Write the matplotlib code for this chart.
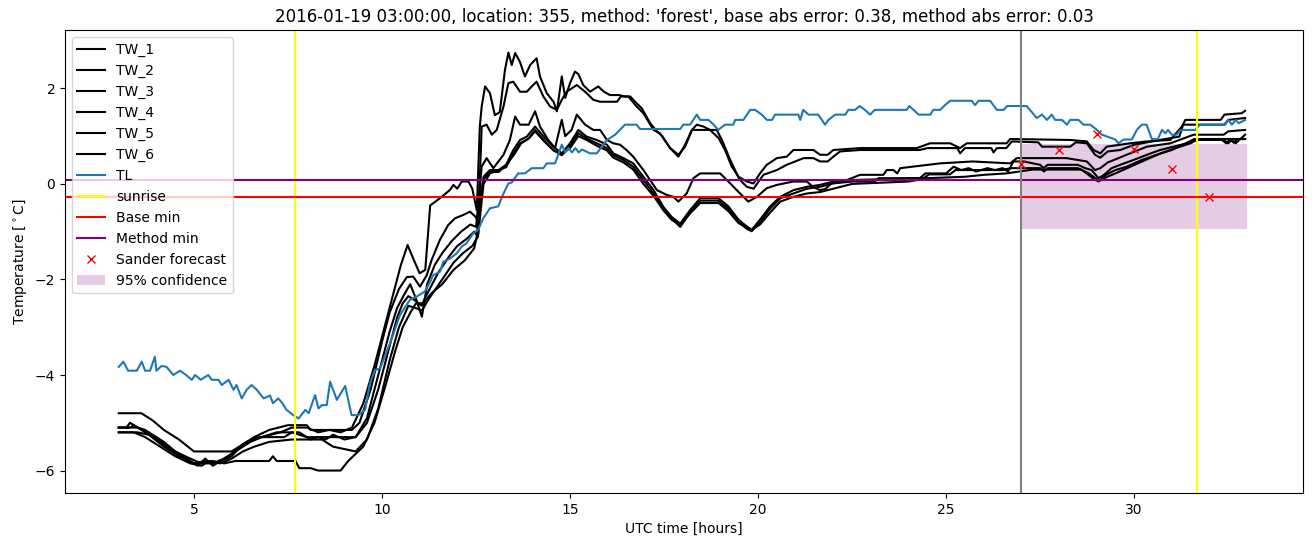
import numpy as np
import matplotlib
matplotlib.use("Agg")
import matplotlib.pyplot as plt

# ---- data (hours UTC, degC) ----
tw1_t = [3.0, 3.5, 3.7, 4.2, 4.6, 5.0, 5.5, 5.8, 6.2, 6.5, 6.8, 7.3, 7.6, 8.0, 8.3, 8.6, 8.9, 9.2,
         9.5, 9.8, 10.1, 10.3, 10.5, 10.68, 10.85, 11.0, 11.15, 11.28, 11.54, 11.8, 11.9, 12.0, 12.12,
         12.3, 12.4, 12.52, 12.6, 12.65, 12.74, 12.87, 13.0, 13.13, 13.27, 13.36, 13.45, 13.54, 13.67,
         13.8, 13.94, 14.11, 14.2, 14.38, 14.56, 14.65, 14.78, 14.87, 15.0, 15.13, 15.22, 15.35, 15.53,
         15.75, 15.9, 16.06, 16.3, 16.46, 16.6, 16.73, 16.91, 17.13, 17.31, 17.45, 17.66, 17.88, 18.06,
         18.24, 18.37, 18.55, 18.72, 18.95, 19.12, 19.3, 19.48, 19.7, 19.88, 20.05, 20.23, 20.5, 20.76,
         20.94, 21.47, 21.65, 21.85, 22.0, 22.71, 24.22, 24.57, 25.11, 25.37, 25.55, 26.61, 26.7, 28.3,
         28.74, 28.92, 29.1, 29.27, 29.89, 30.34, 30.96, 31.27, 31.36, 32.3, 32.4, 32.86, 32.95]
tw1_v = [-5.1, -5.1, -5.15, -5.45, -5.7, -5.85, -5.85, -5.75, -5.55, -5.4, -5.3, -5.2, -5.1, -5.1,
         -5.2, -5.15, -5.2, -5.1, -4.6, -3.8, -2.9, -2.3, -1.7, -1.28, -1.6, -1.87, -1.8, -0.45, -0.3,
         -0.13, -0.02, -0.1, 0.05, 0.05, -0.1, -0.55, 1.2, 1.62, 2.04, 1.9, 1.44, 1.5, 2.39, 2.75, 2.49,
         2.74, 2.55, 2.25, 2.49, 2.63, 2.25, 1.9, 1.72, 1.52, 2.25, 1.8, 2.11, 2.35, 2.3, 2.07, 1.93,
         2.04, 1.93, 1.86, 1.86, 1.83, 1.83, 1.72, 1.58, 1.27, 1.1, 1.0, 0.75, 0.57, 0.82, 1.13, 1.24,
         1.2, 1.13, 0.96, 0.71, 0.36, 0.15, 0.05, 0.01, 0.22, 0.4, 0.54, 0.57, 0.71, 0.71, 0.61, 0.61,
         0.71, 0.75, 0.75, 0.85, 0.85, 0.75, 0.85, 0.85, 0.94, 0.92, 0.89, 0.71, 0.64, 0.78, 0.85, 0.89,
         0.92, 1.2, 1.34, 1.34, 1.45, 1.48, 1.53]

tw2_t = [3.0, 3.6, 3.9, 4.2, 4.6, 5.0, 6.0, 6.2, 6.6, 7.0, 7.5, 8.0, 8.1, 9.2, 9.4, 9.7, 10.0, 10.2,
         10.45, 10.66, 10.83, 11.01, 11.19, 11.32, 11.54, 11.76, 11.94, 12.16, 12.34, 12.5, 12.56,
         12.65, 12.78, 12.92, 13.05, 13.23, 13.36, 13.49, 13.67, 13.85, 13.98, 14.11, 14.29, 14.47,
         14.65, 14.78, 14.91, 15.18, 15.4, 15.62, 15.8, 16.25, 16.35, 16.55, 16.77, 16.95, 17.22, 17.39,
         17.66, 17.88, 18.06, 18.24, 18.9, 19.05, 19.26, 19.5, 19.7, 19.88, 20.14, 20.5, 20.76, 21.21,
         21.47, 21.65, 21.85, 22.0, 22.18, 22.71, 24.3, 24.5, 25.3, 25.37, 25.5, 26.2, 26.26, 26.35,
         26.6, 26.75, 27.45, 27.55, 28.3, 28.45, 28.74, 28.96, 29.1, 29.3, 29.63, 30.0, 30.69, 31.2,
         31.3, 32.4, 32.5, 32.95]
tw2_v = [-4.8, -4.8, -4.95, -5.15, -5.35, -5.6, -5.6, -5.5, -5.3, -5.15, -5.05, -5.05, -5.15, -5.15,
         -5.0, -4.3, -3.3, -2.7, -2.2, -1.95, -1.94, -2.15, -1.91, -1.59, -1.17, -0.86, -0.72, -0.65,
         -0.58, -0.7, -0.82, 1.2, 1.24, 1.03, 1.13, 1.62, 2.11, 2.14, 1.93, 1.93, 2.04, 2.14, 1.83,
         1.62, 1.55, 1.76, 1.93, 2.07, 1.93, 1.76, 1.72, 1.72, 1.83, 1.83, 1.62, 1.48, 1.13, 1.06, 0.75,
         0.61, 0.78, 1.13, 1.13, 0.9, 0.5, 0.1, -0.06, -0.1, 0.19, 0.29, 0.4, 0.54, 0.54, 0.47, 0.47,
         0.57, 0.68, 0.71, 0.71, 0.75, 0.75, 0.64, 0.75, 0.75, 0.66, 0.75, 0.75, 0.89, 0.87, 0.78, 0.78,
         0.87, 0.85, 0.61, 0.55, 0.68, 0.71, 0.82, 0.92, 0.99, 1.24, 1.24, 1.34, 1.38]

tw3_t = [3.0, 3.5, 3.8, 4.2, 4.6, 5.0, 5.3, 5.6, 6.0, 6.3, 6.7, 7.4, 7.6, 8.0, 9.3, 9.6, 9.9, 10.2,
         10.4, 10.6, 10.75, 10.9, 11.06, 11.2, 11.4, 11.6, 11.85, 12.1, 12.35, 12.5, 12.55, 12.65,
         12.78, 12.96, 13.23, 13.4, 13.54, 13.67, 13.9, 14.07, 14.2, 14.42, 14.6, 14.78, 14.87, 15.04,
         15.18, 15.4, 15.62, 15.8, 15.98, 16.15, 16.33, 16.5, 16.68, 16.95, 17.13, 17.31, 17.57, 17.75,
         17.88, 18.1, 18.28, 18.46, 18.99, 19.26, 19.52, 19.74, 19.97, 20.23, 20.5, 20.94, 21.3, 21.45,
         21.65, 21.8, 22.0, 22.36, 22.71, 23.33, 23.42, 23.6, 23.7, 23.78, 24.84, 25.7, 26.7, 26.88,
         28.2, 28.74, 28.96, 29.1, 29.3, 29.8, 30.34, 30.96, 31.58, 32.38, 32.5, 32.95]
tw3_v = [-5.2, -5.2, -5.25, -5.5, -5.7, -5.85, -5.8, -5.85, -5.7, -5.45, -5.3, -5.3, -5.2, -5.3,
         -5.3, -4.9, -4.0, -3.1, -2.6, -2.3, -2.1, -2.4, -2.78, -2.1, -1.7, -1.45, -1.2, -1.0, -0.85,
         -0.9, -0.5, 0.36, 0.54, 0.33, 0.61, 0.92, 1.41, 1.24, 1.24, 1.52, 1.2, 0.92, 0.75, 1.34, 1.0,
         1.13, 1.45, 1.24, 1.13, 1.13, 0.92, 0.85, 0.82, 0.71, 0.57, 0.29, 0.08, -0.13, -0.23, -0.27,
         -0.37, -0.2, 0.12, 0.22, 0.22, 0.01, -0.2, -0.37, -0.27, -0.09, -0.02, 0.05, 0.05, -0.06,
         -0.13, -0.1, 0.05, 0.08, 0.19, 0.19, 0.29, 0.29, 0.22, 0.33, 0.43, 0.47, 0.43, 0.54, 0.54,
         0.47, 0.29, 0.33, 0.45, 0.61, 0.78, 0.85, 1.03, 1.03, 1.1, 1.13]

tw4_t = [3.0, 3.3, 3.4, 3.6, 4.0, 4.4, 4.8, 5.1, 5.3, 5.5, 5.8, 6.1, 6.4, 6.8, 7.2, 7.8, 8.1, 8.3,
         8.5, 8.7, 9.0, 9.3, 9.6, 9.9, 10.2, 10.4, 10.55, 10.7, 10.9, 11.05, 11.2, 11.5, 11.8, 12.0,
         12.25, 12.45, 12.55, 12.62, 12.7, 12.87, 13.1, 13.3, 13.49, 13.67, 13.85, 14.07, 14.3, 14.56,
         14.78, 15.0, 15.22, 15.44, 15.71, 15.98, 16.15, 16.42, 16.68, 16.95, 17.22, 17.48, 17.7, 17.93,
         18.19, 18.46, 18.95, 19.21, 19.48, 19.7, 19.83, 20.05, 20.32, 20.59, 20.94, 21.3, 21.65, 22.0,
         22.45, 24.3, 24.45, 25.0, 25.2, 25.4, 25.6, 25.8, 26.1, 26.3, 26.5, 26.65, 26.79, 27.06, 27.5,
         27.59, 27.7, 28.5, 28.7, 28.87, 29.05, 29.2, 29.4, 29.63, 29.98, 30.34, 30.69, 31.05, 31.4,
         31.67, 32.38, 32.5, 32.6, 32.7, 32.95]
tw4_v = [-5.1, -5.1, -5.05, -5.15, -5.35, -5.55, -5.75, -5.9, -5.75, -5.9, -5.75, -5.6, -5.4, -5.3,
         -5.2, -5.2, -5.35, -5.3, -5.35, -5.25, -5.35, -5.3, -5.0, -4.3, -3.4, -2.8, -2.5, -2.35, -2.45,
         -2.55, -2.3, -1.85, -1.5, -1.3, -1.15, -1.0, -1.1, -0.4, 0.15, 0.29, 0.29, 0.4, 0.71, 0.92,
         0.99, 1.2, 0.99, 0.78, 0.64, 0.85, 1.13, 0.99, 0.92, 0.82, 0.64, 0.54, 0.43, 0.15, -0.13, -0.48,
         -0.69, -0.83, -0.55, -0.3, -0.3, -0.47, -0.75, -0.89, -0.96, -0.75, -0.47, -0.27, -0.13, -0.06,
         -0.02, 0.05, 0.08, 0.12, 0.22, 0.22, 0.36, 0.29, 0.33, 0.26, 0.33, 0.29, 0.33, 0.26, 0.47, 0.47,
         0.4, 0.33, 0.4, 0.4, 0.33, 0.29, 0.12, 0.19, 0.33, 0.4, 0.5, 0.61, 0.71, 0.78, 0.85, 0.92, 0.92,
         0.85, 0.92, 0.85, 1.03]

tw5_t = [3.0, 3.4, 3.7, 4.1, 4.5, 4.9, 5.2, 5.4, 5.7, 6.0, 6.3, 6.6, 7.0, 7.6, 8.4, 8.7, 9.3, 9.6,
         9.9, 10.2, 10.45, 10.7, 10.9, 11.06, 11.25, 11.6, 11.9, 12.15, 12.4, 12.55, 12.7, 12.87, 13.1,
         13.3, 13.49, 13.67, 13.9, 14.07, 14.3, 14.56, 14.78, 15.0, 15.22, 15.44, 15.71, 15.98, 16.15,
         16.42, 16.68, 16.95, 17.22, 17.48, 17.7, 17.93, 18.19, 18.46, 18.95, 19.21, 19.48, 19.7, 19.83,
         20.05, 20.32, 20.59, 20.94, 21.3, 21.65, 22.0, 22.5, 23.1, 23.2, 24.4, 24.55, 25.1, 25.25, 26.5,
         26.7, 27.5, 27.6, 27.7, 28.5, 28.8, 29.0, 29.1, 29.25, 29.5, 29.8, 30.2, 30.6, 31.0, 31.3, 31.6,
         32.95]
tw5_v = [-5.2, -5.2, -5.3, -5.5, -5.7, -5.85, -5.9, -5.8, -5.85, -5.75, -5.6, -5.5, -5.4, -5.35,
         -5.35, -5.5, -5.6, -5.35, -4.7, -3.7, -3.0, -2.55, -2.6, -2.65, -2.4, -2.0, -1.65, -1.45, -1.3,
         -1.1, 0.0, 0.22, 0.29, 0.35, 0.64, 0.85, 0.95, 1.13, 0.92, 0.71, 0.6, 0.8, 1.06, 0.95, 0.85, 0.75,
         0.6, 0.5, 0.36, 0.08, -0.2, -0.52, -0.72, -0.9, -0.6, -0.35, -0.35, -0.52, -0.8, -0.94, -0.99,
         -0.8, -0.52, -0.3, -0.2, -0.1, -0.06, 0.01, 0.05, 0.05, 0.12, 0.12, 0.2, 0.2, 0.29, 0.29, 0.33,
         0.33, 0.26, 0.33, 0.33, 0.22, 0.1, 0.08, 0.19, 0.29, 0.36, 0.5, 0.61, 0.71, 0.82, 0.94, 0.94]

tw6_t = [3.0, 3.2, 3.3, 3.5, 3.8, 4.2, 4.5, 4.9, 5.2, 5.5, 5.8, 6.1, 7.0, 7.1, 7.2, 7.7, 7.8, 8.1,
         8.3, 8.9, 9.1, 9.5, 9.8, 10.1, 10.35, 10.55, 10.75, 10.9, 11.1, 11.3, 11.6, 11.9, 12.2, 12.45,
         12.52, 12.6, 12.7, 12.87, 13.1, 13.3, 13.5, 13.7, 13.9, 14.07, 14.3, 14.56, 14.78, 15.0, 15.22,
         15.44, 15.71, 15.98, 16.15, 16.42, 16.68, 16.95, 17.22, 17.48, 17.7, 17.93, 18.19, 18.46,
         18.95, 19.21, 19.48, 19.83, 20.05, 20.32, 20.59, 20.94, 21.3, 21.65, 22.0, 22.5, 24.0, 24.5,
         25.5, 26.0, 26.6, 27.3, 28.6, 28.9, 29.05, 29.2, 29.5, 29.9, 30.3, 30.7, 31.1, 31.5, 31.7,
         32.3, 32.45, 32.55, 32.65, 32.75, 32.95]
tw6_v = [-5.1, -5.1, -5.0, -5.1, -5.2, -5.4, -5.6, -5.75, -5.85, -5.8, -5.85, -5.8, -5.8, -5.7, -5.8,
         -5.8, -5.95, -5.95, -6.0, -6.0, -5.8, -5.5, -5.0, -4.2, -3.5, -3.0, -2.7, -2.5, -2.5, -2.3,
         -2.1, -1.8, -1.6, -1.35, -1.1, -0.3, 0.1, 0.25, 0.25, 0.4, 0.6, 0.85, 0.95, 1.1, 0.9, 0.7,
         0.62, 0.75, 1.0, 0.92, 0.8, 0.7, 0.55, 0.45, 0.3, 0.0, -0.25, -0.55, -0.75, -0.86, -0.62, -0.4,
         -0.4, -0.57, -0.82, -0.96, -0.85, -0.6, -0.37, -0.27, -0.2, -0.17, -0.1, 0.0, 0.05, 0.12, 0.15,
         0.19, 0.22, 0.3, 0.3, 0.12, 0.05, 0.12, 0.22, 0.36, 0.5, 0.64, 0.75, 0.85, 0.94, 0.94, 0.85,
         0.94, 0.86, 0.94, 0.94]

tl_t = [3.0, 3.12, 3.25, 3.48, 3.61, 3.7, 3.83, 3.96, 4.0, 4.14, 4.27, 4.45, 4.63, 4.79, 4.94, 5.03,
        5.18, 5.38, 5.47, 5.65, 5.74, 5.92, 6.05, 6.13, 6.27, 6.4, 6.53, 6.67, 6.85, 7.02, 7.1, 7.24,
        7.35, 7.46, 7.64, 7.78, 7.96, 8.05, 8.22, 8.31, 8.4, 8.53, 8.62, 8.8, 9.02, 9.19, 9.37, 9.55,
        9.68, 9.81, 9.95, 10.21, 10.48, 10.74, 10.92, 11.14, 11.28, 11.36, 11.54, 11.63, 11.81, 11.99,
        12.12, 12.25, 12.43, 12.56, 12.69, 12.87, 13.09, 13.23, 13.36, 13.45, 13.62, 13.8, 13.98, 14.29,
        14.38, 14.6, 14.78, 14.87, 14.96, 15.05, 15.14, 15.23, 15.32, 15.53, 15.71, 15.98, 16.2, 16.46,
        16.77, 16.86, 17.93, 18.01, 18.19, 18.37, 18.46, 18.68, 18.82, 18.94, 19.12, 19.34, 19.39,
        19.61, 19.79, 19.92, 20.1, 20.23, 20.37, 20.45, 21.07, 21.12, 21.2, 21.34, 21.6, 21.78, 21.87,
        22.05, 22.32, 22.4, 22.58, 22.7, 22.84, 22.98, 23.1, 23.95, 24.02, 24.13, 24.27, 24.58, 24.66,
        24.84, 24.97, 25.11, 25.68, 25.77, 25.86, 26.17, 26.35, 26.53, 26.62, 27.14, 27.41, 27.55,
        27.68, 27.81, 27.9, 28.08, 28.21, 28.3, 28.52, 28.65, 28.83, 29.01, 29.14, 29.5, 29.58, 29.72,
        29.94, 30.07, 30.2, 30.33, 30.47, 30.63, 30.74, 30.83, 30.9, 31.0, 31.13, 31.23, 31.62, 31.75,
        32.42, 32.5, 32.6, 32.7, 32.78, 32.95]
tl_v = [-3.83, -3.72, -3.91, -3.91, -3.72, -3.91, -3.91, -3.62, -3.91, -3.81, -3.83, -4.0, -3.91,
        -4.0, -4.1, -4.0, -4.1, -4.0, -4.1, -4.1, -4.21, -4.1, -4.31, -4.21, -4.49, -4.31, -4.21, -4.31,
        -4.49, -4.43, -4.59, -4.49, -4.59, -4.73, -4.84, -4.91, -4.73, -4.8, -4.42, -4.7, -4.63, -4.63,
        -4.14, -4.52, -4.23, -4.84, -4.84, -4.73, -4.17, -3.9, -3.86, -3.34, -2.74, -2.43, -2.36, -2.25,
        -2.05, -1.91, -1.84, -1.63, -1.56, -1.45, -1.31, -1.24, -1.03, -0.96, -0.72, -0.51, -0.47, -0.2,
        0.01, 0.03, 0.22, 0.22, 0.33, 0.33, 0.43, 0.43, 0.82, 0.66, 0.75, 0.66, 0.75, 0.66, 0.72, 0.64,
        0.64, 0.92, 1.03, 1.24, 1.24, 1.15, 1.15, 1.24, 1.24, 1.45, 1.34, 1.34, 1.24, 1.13, 1.24, 1.24,
        1.34, 1.34, 1.55, 1.55, 1.45, 1.34, 1.34, 1.45, 1.45, 1.34, 1.55, 1.45, 1.45, 1.24, 1.34, 1.45,
        1.45, 1.55, 1.55, 1.63, 1.55, 1.45, 1.55, 1.55, 1.63, 1.55, 1.45, 1.45, 1.55, 1.55, 1.65, 1.74,
        1.74, 1.65, 1.74, 1.74, 1.55, 1.55, 1.63, 1.63, 1.38, 1.45, 1.34, 1.45, 1.34, 1.34, 1.24, 1.34,
        1.34, 1.24, 1.24, 1.13, 1.03, 0.93, 0.85, 0.93, 0.93, 1.13, 1.24, 1.24, 0.94, 0.94, 1.13, 1.06,
        1.13, 1.03, 1.03, 1.13, 1.13, 1.24, 1.24, 1.34, 1.24, 1.34, 1.27, 1.34]

sunrise_hours = [7.69, 31.67]
now_hour = 27.0
base_min = -0.27
method_min = 0.08
forecast_hours = [27, 28, 29, 30, 31, 32]
forecast_vals = [0.41, 0.71, 1.05, 0.73, 0.31, -0.28]
conf_hours = [27.0, 33.0]
conf_low = -0.94
conf_high = 0.84

fig, ax = plt.subplots(figsize=(13.13, 5.47), dpi=100)
fig.subplots_adjust(left=0.0495, right=0.9924, top=0.945, bottom=0.0987)

tw = [(tw1_t, tw1_v), (tw2_t, tw2_v), (tw3_t, tw3_v),
      (tw4_t, tw4_v), (tw5_t, tw5_v), (tw6_t, tw6_v)]
for i, (t, v) in enumerate(tw):
    ax.plot(t, v, color="black", label=f"TW_{i + 1}")
ax.plot(tl_t, tl_v, color="#1f77b4", label="TL")

ax.axvline(sunrise_hours[0], color="yellow", label="sunrise")
ax.axvline(sunrise_hours[1], color="yellow")
ax.axhline(base_min, color="red", label="Base min")
ax.axhline(method_min, color="purple", label="Method min")
ax.axvline(now_hour, color="gray")
ax.plot(forecast_hours, forecast_vals, "rx", label="Sander forecast")
ax.fill_between(conf_hours, conf_low, conf_high, color="purple", alpha=0.2,
                linewidth=0, label="95% confidence")

ax.set_xlim(1.57, 34.49)
ax.set_ylim(-6.47, 3.22)
ax.set_xlabel("UTC time [hours]")
ax.set_ylabel(r"Temperature [$^\circ$C]")
ax.set_title("2016-01-19 03:00:00, location: 355, method: 'forest', "
             "base abs error: 0.38, method abs error: 0.03")
ax.legend(loc="upper left")

fig.savefig("out.png", dpi=100)
